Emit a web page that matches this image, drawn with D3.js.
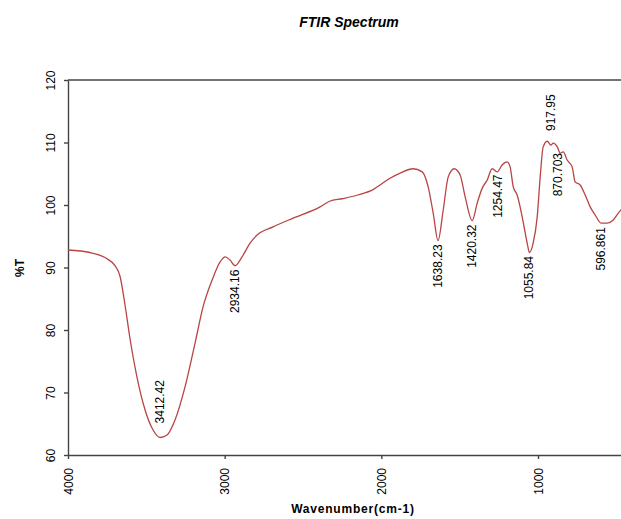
<!DOCTYPE html>
<html>
<head>
<meta charset="utf-8">
<script src="https://cdn.jsdelivr.net/npm/d3@7"></script>
<style>
  body { margin: 0; background: #fff; }
  text { font-family: "Liberation Sans", Arial, sans-serif; }
</style>
</head>
<body>
<div class="chart"></div>
<script>
// spectrum
var wavenumber = [4000, 3860, 3764, 3745, 3700, 3668, 3636, 3604, 3560, 3508, 3457, 3412, 3368, 3317, 3253, 3189, 3138, 3080, 3029, 2997, 2966, 2934, 2889, 2838, 2793, 2691, 2563, 2391, 2330, 2250, 2150, 2050, 2008, 1950, 1880, 1797, 1739, 1701, 1669, 1638, 1605, 1573, 1535, 1497, 1465, 1420, 1388, 1356, 1324, 1293, 1261, 1229, 1197, 1178, 1158, 1133, 1101, 1069, 1055, 1031, 1005, 986, 967, 941, 918, 903, 877, 858, 839, 814, 782, 763, 731, 699, 667, 635, 597, 558, 520, 488, 460, 430, 400];
var transmittance = [92.8, 92.4, 91.6, 91.3, 90.3, 88.6, 84.0, 78.6, 72.5, 67.2, 64.0, 62.8, 63.2, 65.6, 70.9, 77.9, 83.7, 88.0, 90.9, 91.7, 91.2, 90.3, 91.7, 93.9, 95.2, 96.5, 97.9, 99.7, 100.6, 101.0, 101.6, 102.5, 103.2, 104.2, 105.1, 105.8, 105.3, 102.9, 98.7, 94.3, 99.2, 104.5, 105.8, 104.8, 101.3, 97.5, 100.3, 102.7, 104.0, 105.8, 105.3, 106.4, 106.9, 106.1, 102.9, 101.6, 98.1, 93.9, 92.4, 93.9, 98.1, 104.5, 109.3, 110.2, 109.6, 109.9, 109.3, 108.3, 108.5, 107.2, 106.1, 103.7, 103.2, 101.6, 99.7, 98.4, 97.1, 97.1, 97.6, 98.7, 99.5, 100.3, 101.0];

// peak labels
var peakLabels = ["3412.42", "2934.16", "1638.23", "1420.32", "1254.47", "1055.84", "917.95", "870.703", "596.861"];
var peakSide = ["above", "below", "below", "below", "below", "below", "above", "below", "below"];

var xTicks = [4000, 3000, 2000, 1000];
var yTicks = [60, 70, 80, 90, 100, 110, 120];

var width = 621, height = 519;

var svg = d3.select(".chart").append("svg")
    .attr("width", width)
    .attr("height", height);

var x = d3.scaleLinear().domain([4000, 400]).range([68, 632]);
var y = d3.scaleLinear().domain([60, 120]).range([455, 80]);

var data = wavenumber.map(function (d, i) { return { wn: d, t: transmittance[i] }; });

// title
svg.append("text")
    .attr("x", 349)
    .attr("y", 27)
    .attr("text-anchor", "middle")
    .style("font-size", "14px")
    .style("font-weight", "bold")
    .style("font-style", "italic")
    .text("FTIR Spectrum");

// axes
var xAxis = svg.append("g")
    .attr("transform", "translate(0,455)")
    .call(d3.axisBottom(x).tickValues(xTicks).tickSize(4).tickSizeOuter(0).tickFormat(d3.format("d")));
xAxis.selectAll("text")
    .attr("transform", "rotate(-90)")
    .attr("x", -13)
    .attr("y", 0)
    .attr("dy", "0.35em")
    .attr("text-anchor", "end")
    .style("font-size", "12px")
    .style("fill", "#000");

var yAxis = svg.append("g")
    .attr("transform", "translate(68,0)")
    .call(d3.axisLeft(y).tickValues(yTicks).tickSize(4).tickSizeOuter(0));
yAxis.selectAll("text")
    .attr("transform", "translate(-17,0) rotate(-90)")
    .attr("x", 0)
    .attr("y", 0)
    .attr("dy", "0.35em")
    .attr("text-anchor", "middle")
    .style("font-size", "12px")
    .style("fill", "#000");

svg.selectAll(".domain, .tick line").attr("stroke", "#444").attr("stroke-width", 1.4);

// top frame line
svg.append("line")
    .attr("x1", x(4000)).attr("x2", x(400))
    .attr("y1", y(120)).attr("y2", y(120))
    .attr("stroke", "#444").attr("stroke-width", 1.4);

// axis titles
svg.append("text")
    .attr("x", 353)
    .attr("y", 513)
    .attr("text-anchor", "middle")
    .style("font-size", "12px")
    .style("font-weight", "bold")
    .style("letter-spacing", "0.8px")
    .text("Wavenumber(cm-1)");

svg.append("text")
    .attr("transform", "translate(24,268) rotate(-90)")
    .attr("text-anchor", "middle")
    .style("font-size", "12px")
    .style("font-weight", "bold")
    .text("%T");

// spectrum line
var line = d3.line()
    .x(function (d) { return x(d.wn); })
    .y(function (d) { return y(d.t); })
    .curve(d3.curveMonotoneX);

svg.append("path")
    .datum(data)
    .attr("fill", "none")
    .attr("stroke", "#b94444")
    .attr("stroke-width", 1.3)
    .attr("d", line);

// value of the curve at a wavenumber
function valueAt(wn) {
    for (var i = 0; i < data.length - 1; i++) {
        if (data[i].wn >= wn && data[i + 1].wn <= wn) {
            var f = (data[i].wn - wn) / (data[i].wn - data[i + 1].wn);
            return data[i].t + f * (data[i + 1].t - data[i].t);
        }
    }
    return data[data.length - 1].t;
}

svg.append("g").selectAll("text")
    .data(peakLabels)
    .enter().append("text")
    .attr("transform", function (d, i) {
        var wn = +d;
        var py = y(valueAt(wn));
        py = peakSide[i] === "above" ? py - 14 : py + 4;
        return "translate(" + x(wn) + "," + py + ") rotate(-90)";
    })
    .attr("dy", "0.35em")
    .attr("text-anchor", function (d, i) { return peakSide[i] === "above" ? "start" : "end"; })
    .style("font-size", "12px")
    .text(function (d) { return d; });
</script>
</body>
</html>
